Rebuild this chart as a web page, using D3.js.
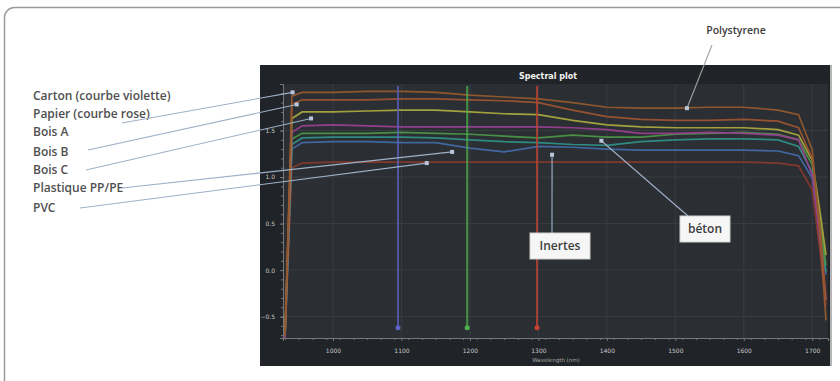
<!DOCTYPE html>
<html>
<head>
<meta charset="utf-8">
<script src="https://cdn.jsdelivr.net/npm/d3@7"></script>
<style>
body { margin: 0; background: #fff; }
svg { display: block; }
</style>
</head>
<body>
<svg id="chart" width="840" height="381"></svg>
<script>
// spectra: wavelength (nm) -> reflectance
var wavelengths = [930, 940, 955, 1000, 1050, 1100, 1150, 1200, 1250, 1300, 1350, 1400, 1450, 1500, 1550, 1600, 1650, 1680, 1700, 1712, 1720];
var curveOrange = [-0.70, 1.87, 1.91, 1.91, 1.92, 1.92, 1.91, 1.88, 1.86, 1.84, 1.80, 1.75, 1.74, 1.74, 1.75, 1.75, 1.72, 1.67, 1.29, 0.32, -0.54];
var curveRust   = [-0.70, 1.78, 1.83, 1.83, 1.83, 1.84, 1.84, 1.83, 1.82, 1.80, 1.72, 1.65, 1.62, 1.61, 1.61, 1.62, 1.60, 1.53, 1.20, 0.43, -0.32];
var curveYellow = [-0.65, 1.63, 1.70, 1.70, 1.71, 1.72, 1.72, 1.70, 1.68, 1.67, 1.61, 1.56, 1.54, 1.53, 1.53, 1.53, 1.51, 1.45, 1.18, 0.59, 0.16];
var curveViolet = [-0.73, 1.48, 1.55, 1.56, 1.55, 1.54, 1.54, 1.54, 1.54, 1.54, 1.53, 1.51, 1.47, 1.47, 1.48, 1.47, 1.45, 1.40, 1.02, 0.27, -0.32];
var curveGreen  = [-0.70, 1.41, 1.47, 1.47, 1.47, 1.48, 1.47, 1.46, 1.44, 1.42, 1.45, 1.43, 1.43, 1.46, 1.47, 1.48, 1.46, 1.40, 1.13, 0.48, 0.05];
var curveTeal   = [-0.71, 1.35, 1.42, 1.43, 1.43, 1.43, 1.42, 1.40, 1.38, 1.37, 1.35, 1.34, 1.38, 1.40, 1.41, 1.41, 1.40, 1.33, 1.05, 0.43, -0.02];
var curveBlue   = [-0.71, 1.30, 1.37, 1.38, 1.38, 1.37, 1.37, 1.31, 1.27, 1.33, 1.32, 1.30, 1.29, 1.29, 1.29, 1.29, 1.28, 1.23, 0.99, 0.38, -0.05];
var curveBrown  = [-0.71, 1.10, 1.15, 1.16, 1.16, 1.16, 1.16, 1.16, 1.16, 1.16, 1.16, 1.16, 1.16, 1.16, 1.16, 1.16, 1.15, 1.12, 0.86, 0.16, -0.38];

var xTicks = [1000, 1100, 1200, 1300, 1400, 1500, 1600, 1700];
var yTicks = [1.5, 1, 0.5, 0, -0.5];

// cursor lines (nm)
var markers = [1095, 1196, 1298];
var markerColors = ['#5b62c4', '#4fb44c', '#c8432f'];

// left legend labels and the point (nm, value) each one points to
var labelNames = ['Carton (courbe violette)', 'Papier (courbe rose)', 'Bois A', 'Bois B', 'Bois C', 'Plastique PP/PE', 'PVC'];
var pointerTargets = [[941, 1.91], [947, 1.78], [968, 1.63], [1174, 1.27], [1137, 1.15]];

var series = [
    {values: curveBrown,  color: '#86392c'},
    {values: curveBlue,   color: '#426aa8'},
    {values: curveTeal,   color: '#2f8f86'},
    {values: curveGreen,  color: '#4b9548'},
    {values: curveViolet, color: '#983f8f'},
    {values: curveYellow, color: '#a9a83e'},
    {values: curveRust,   color: '#9c5330'},
    {values: curveOrange, color: '#95592e'}
];

var svg = d3.select('#chart');

// rounded frame around the figure
svg.append('rect')
    .attr('x', 4.5).attr('y', 7.5)
    .attr('width', 880).attr('height', 420)
    .attr('rx', 10)
    .attr('fill', 'none')
    .attr('stroke', '#9a9a9a')
    .attr('stroke-width', 1.5);

// dark screenshot panel
svg.append('rect')
    .attr('x', 260).attr('y', 65)
    .attr('width', 570).attr('height', 301)
    .attr('fill', '#202327');
svg.append('line')
    .attr('x1', 831).attr('x2', 831).attr('y1', 65).attr('y2', 366)
    .attr('stroke', '#b5b5b5').attr('stroke-width', 2);

var x = d3.scaleLinear().domain([927, 1723]).range([283, 828]);
var y = d3.scaleLinear().domain([-0.73, 2.0]).range([338, 84]);

svg.append('rect')
    .attr('x', x.range()[0]).attr('y', y.range()[1])
    .attr('width', x.range()[1] - x.range()[0])
    .attr('height', y.range()[0] - y.range()[1])
    .attr('fill', '#2b2f33');

svg.append('text')
    .attr('x', 548).attr('y', 79)
    .attr('text-anchor', 'middle')
    .style('font-family', 'DejaVu Sans')
    .style('font-size', '8px')
    .style('font-weight', 'bold')
    .attr('fill', '#f2f2f2')
    .text('Spectral plot');

// grid
var grid = svg.append('g');
grid.selectAll('vline')
    .data(xTicks)
    .enter()
    .append('line')
    .attr('x1', d => x(d)).attr('x2', d => x(d))
    .attr('y1', y.range()[1]).attr('y2', y.range()[0])
    .attr('stroke', '#383d42').attr('stroke-width', 1);
grid.selectAll('hline')
    .data(yTicks)
    .enter()
    .append('line')
    .attr('x1', x.range()[0]).attr('x2', x.range()[1])
    .attr('y1', d => y(d)).attr('y2', d => y(d))
    .attr('stroke', '#383d42').attr('stroke-width', 1);

// axes
var xAxis = svg.append('g')
    .attr('transform', 'translate(0,' + y.range()[0] + ')')
    .call(d3.axisBottom(x).tickValues(xTicks).tickSize(3).tickPadding(8).tickFormat(d3.format('d')));
var xMinor = svg.append('g')
    .attr('transform', 'translate(0,' + y.range()[0] + ')')
    .call(d3.axisBottom(x).tickValues(d3.range(930, 1721, 20)).tickSize(2).tickFormat(''));
var yAxis = svg.append('g')
    .attr('transform', 'translate(' + x.range()[0] + ',0)')
    .call(d3.axisLeft(y).tickValues(yTicks).tickSize(3).tickPadding(5));
var yMinor = svg.append('g')
    .attr('transform', 'translate(' + x.range()[0] + ',0)')
    .call(d3.axisLeft(y).tickValues(d3.range(-0.7, 2.0, 0.1)).tickSize(2).tickFormat(''));

[xAxis, xMinor, yAxis, yMinor].forEach(function(a) {
    a.selectAll('path').attr('stroke', '#777');
    a.selectAll('line').attr('stroke', '#777');
    a.selectAll('text')
        .attr('fill', '#c8c8c8')
        .style('font-family', 'DejaVu Sans')
        .style('font-size', '6px');
});

svg.append('text')
    .attr('x', 556).attr('y', 362)
    .attr('text-anchor', 'middle')
    .style('font-family', 'DejaVu Sans')
    .style('font-size', '5.5px')
    .attr('fill', '#aaa')
    .text('Wavelength (nm)');

// spectra
var line = d3.line()
    .x(function(d, i) { return x(wavelengths[i]); })
    .y(function(d) { return y(d); });

svg.append('g')
    .selectAll('path')
    .data(series)
    .enter()
    .append('path')
    .attr('d', d => line(d.values))
    .attr('fill', 'none')
    .attr('stroke', d => d.color)
    .attr('stroke-width', 1.7)
    .attr('opacity', 0.95);

// cursor lines with their dots
var cursors = svg.append('g');
cursors.selectAll('line')
    .data(markers)
    .enter()
    .append('line')
    .attr('x1', d => x(d)).attr('x2', d => x(d))
    .attr('y1', y(1.98)).attr('y2', y(-0.62))
    .attr('stroke', (d, i) => markerColors[i])
    .attr('stroke-width', 2)
    .attr('opacity', 0.75);
cursors.selectAll('circle')
    .data(markers)
    .enter()
    .append('circle')
    .attr('cx', d => x(d)).attr('cy', y(-0.62))
    .attr('r', 2.5)
    .attr('fill', (d, i) => markerColors[i]);

// left labels
svg.append('g')
    .selectAll('text')
    .data(labelNames)
    .enter()
    .append('text')
    .attr('x', 33)
    .attr('y', (d, i) => [100, 118, 136, 156, 174, 192, 212][i])
    .style('font-family', 'Open Sans')
    .style('font-size', '12px')
    .style('font-weight', '600')
    .attr('fill', '#4f4f4f')
    .text(d => d);

var pointerStarts = [[122, 123], [88, 150], [86, 170], [122, 188], [80, 208]];
var pointers = svg.append('g');
pointers.selectAll('line')
    .data(pointerTargets)
    .enter()
    .append('line')
    .attr('x1', (d, i) => pointerStarts[i][0])
    .attr('y1', (d, i) => pointerStarts[i][1])
    .attr('x2', d => x(d[0]))
    .attr('y2', d => y(d[1]))
    .attr('stroke', '#9fb0c8')
    .attr('stroke-width', 1.1);
pointers.selectAll('rect')
    .data(pointerTargets)
    .enter()
    .append('rect')
    .attr('x', d => x(d[0]) - 2).attr('y', d => y(d[1]) - 2)
    .attr('width', 4).attr('height', 4)
    .attr('fill', '#b9c6dc');

// Polystyrene, béton, Inertes callouts
var callouts = [
    {name: 'Polystyrene', target: [1517, 1.74], from: [712, 45], box: false, tx: 736, ty: 34},
    {name: 'béton', target: [1392, 1.39], from: [688, 216], box: [680, 216, 50, 26], tx: 705, ty: 233},
    {name: 'Inertes', target: [1320, 1.24], from: [552, 233], box: [530, 233, 60, 26], tx: 560, ty: 250}
];

callouts.forEach(function(c) {
    svg.append('line')
        .attr('x1', c.from[0]).attr('y1', c.from[1])
        .attr('x2', x(c.target[0])).attr('y2', y(c.target[1]))
        .attr('stroke', c.box ? '#9fb0c8' : '#a0a0a0')
        .attr('stroke-width', 1.1);
    svg.append('rect')
        .attr('x', x(c.target[0]) - 2).attr('y', y(c.target[1]) - 2)
        .attr('width', 4).attr('height', 4)
        .attr('fill', '#b9c6dc');
    if (c.box) {
        svg.append('rect')
            .attr('x', c.box[0]).attr('y', c.box[1])
            .attr('width', c.box[2]).attr('height', c.box[3])
            .attr('fill', '#f6f6f6')
            .attr('stroke', '#d0d0d0');
    }
    svg.append('text')
        .attr('x', c.tx).attr('y', c.ty)
        .attr('text-anchor', 'middle')
        .style('font-family', 'Open Sans')
        .style('font-size', c.box ? '12px' : '10.5px')
        .style('font-weight', '600')
        .attr('fill', '#3c3c3c')
        .text(c.name);
});
</script>
</body>
</html>
